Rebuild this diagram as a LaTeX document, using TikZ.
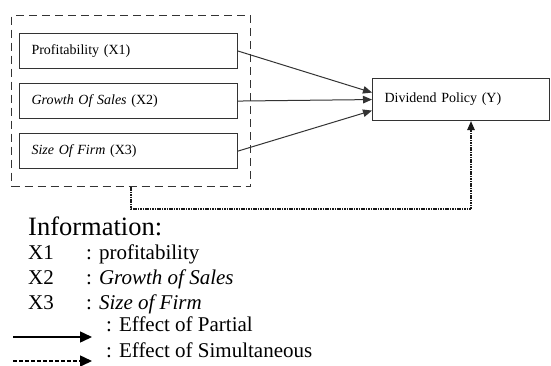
\documentclass[tikz,border=0pt]{standalone}
\usepackage{fontspec}
\setmainfont{Liberation Serif}
\usetikzlibrary{arrows.meta,calc}

\tikzset{
    varbox/.style={draw=black!80, line width=1.1pt, anchor=north west, inner xsep=12pt,
        text width=194pt, minimum height=35pt, align=left, font=\fontsize{14}{16}\selectfont},
    groupbox/.style={draw=black!80, line width=1pt, dash pattern=on 8pt off 5pt,
        anchor=north west, inner sep=0pt, minimum width=239pt, minimum height=171pt},
    legend/.style={anchor=base west, inner sep=0pt, font=\fontsize{21}{24}\selectfont},
    partial/.style={->, draw=black!80, line width=1pt},
    simult/.style={->, draw=black!90, line width=1.3pt, dash pattern=on 1.6pt off 0.8pt},
}

\begin{document}
\begin{tikzpicture}[x=1pt, y=-1pt, >={Triangle[length=9pt,width=7.5pt]}]
    \useasboundingbox (0,0) rectangle (551,365);

    % Nodes {group, x1, x2, x3, y}
    \node [groupbox]                (grp) at (11,15)  {};
    \node [varbox]                  (x1)  at (19,33)  {Profitability (X1)};
    \node [varbox]                  (x2)  at (19,83)  {\textit{Growth Of Sales} (X2)};
    \node [varbox]                  (x3)  at (19,133) {\textit{Size Of Firm} (X3)};
    \node [varbox, text width=153pt, minimum height=42pt]
                                    (y)   at (372,78) {Dividend Policy (Y)};

    % Paths
    \draw [partial]     (x1.east) -- ($(y.west)+(0,-7)$);
    \draw [partial]     (x2.east) -- (y.west);
    \draw [partial]     (x3.east) -- ($(y.west)+(0,11)$);

    \coordinate (c1) at (131,209);
    \coordinate (c2) at (471,209);
    \draw [simult]      (grp.south -| c1) -- (c1) -- (c2) -- (y.south -| c2);

    % Legend
    \node [legend, font=\fontsize{26.5}{30}\selectfont] (info) at (28,235) {Information:};
    \node [legend]      (k1)  at (28,259)  {X1};
    \node [legend]      (d1)  at (86,259)  {: profitability};
    \node [legend]      (k2)  at (28,284)  {X2};
    \node [legend]      (d2)  at (86,284)  {: \textit{Growth of Sales}};
    \node [legend]      (k3)  at (28,309)  {X3};
    \node [legend]      (d3)  at (86,309)  {: \textit{Size of Firm}};
    \node [legend]      (d4)  at (106,331) {: Effect of Partial};
    \node [legend]      (d5)  at (106,357) {: Effect of Simultaneous};

    \coordinate (s0) at (13,337);
    \coordinate (s1) at (92,337);
    \coordinate (t0) at (13,361);
    \coordinate (t1) at (92,361);
    \draw [->, line width=1.5pt, >={Triangle[length=12pt,width=11pt]}] (s0) -- (s1);
    \draw [->, line width=1.5pt, dash pattern=on 4pt off 2pt, >={Triangle[length=12pt,width=11pt]}] (t0) -- (t1);

\end{tikzpicture}
\end{document}
